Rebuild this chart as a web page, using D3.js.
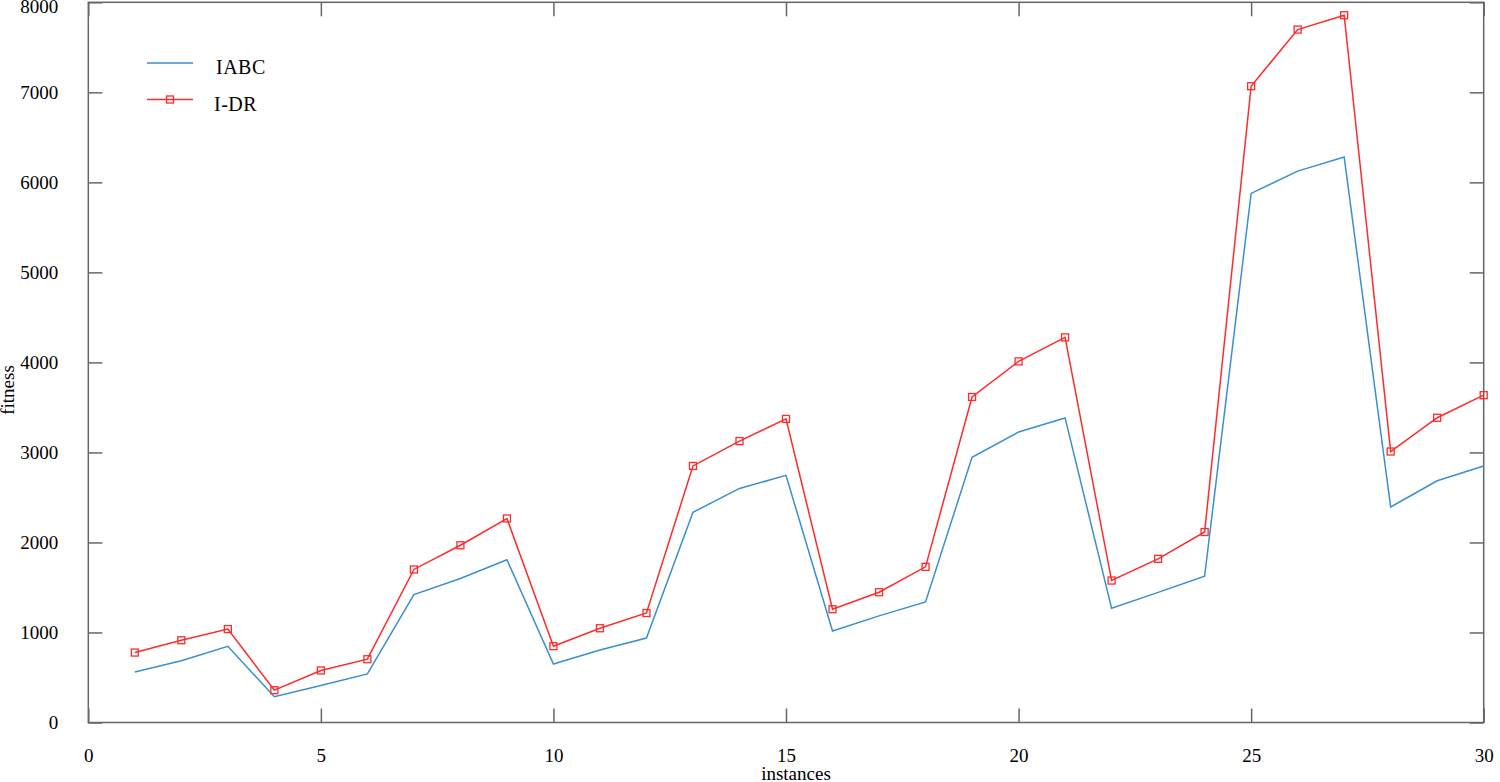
<!DOCTYPE html>
<html>
<head>
<meta charset="utf-8">
<script src="https://cdn.jsdelivr.net/npm/d3@7"></script>
<style>
  html, body { margin: 0; padding: 0; background: #fff; }
  svg { display: block; }
  svg text { font-family: "Liberation Serif", "Times New Roman", serif !important; fill: #000; }
</style>
</head>
<body>
<svg id="chart" width="1500" height="782"></svg>
<script>
const instances = d3.range(1, 31);
const iabc = [560, 686, 846, 287, 410, 540, 1420, 1600, 1808, 649,
              805, 938, 2335, 2600, 2745, 1016, 1184, 1340, 2946, 3227,
              3383, 1270, 1445, 1626, 5877, 6125, 6282, 2394, 2685, 2850];
const idr  = [777, 914, 1038, 359, 578, 703, 1700, 1969, 2266, 848,
              1047, 1216, 2850, 3126, 3372, 1258, 1447, 1729, 3616, 4011,
              4278, 1577, 1818, 2116, 7068, 7697, 7856, 3010, 3385, 3636];
const xTicks = [0, 5, 10, 15, 20, 25, 30];
const yTicks = [0, 1000, 2000, 3000, 4000, 5000, 6000, 7000, 8000];
const seriesNames = ["IABC", "I-DR"];
const seriesColors = ["#3a8fd0", "#ff2a2a"];

const svg = d3.select("#chart");
const L = 88.3, R = 1483.7, T = 2.3, B = 722.5;
const x = d3.scaleLinear().domain([0, 30]).range([L, R]);
const y = d3.scaleLinear().domain([0, 8000]).range([B, T]);
const axisColor = "#666";
const tickLen = 14;
const serif = "'Liberation Serif', 'Times New Roman', serif";
const fs = 19;

// frame
svg.append("rect").attr("x", L).attr("y", T).attr("width", R - L).attr("height", B - T)
  .attr("fill", "none").attr("stroke", axisColor).attr("stroke-width", 1.5);

// axes (ticks drawn inward)
const gB = svg.append("g").attr("transform", `translate(0,${B})`)
  .call(d3.axisBottom(x).tickValues(xTicks).tickSize(-tickLen).tickPadding(tickLen + 12).tickFormat(d3.format("d")));
const gT = svg.append("g").attr("transform", `translate(0,${T})`)
  .call(d3.axisTop(x).tickValues(xTicks).tickSize(-tickLen).tickFormat(""));
const gL = svg.append("g").attr("transform", `translate(${L},0)`)
  .call(d3.axisLeft(y).tickValues(yTicks).tickSize(-tickLen).tickPadding(tickLen + 16).tickFormat(d3.format("d")));
const gR = svg.append("g").attr("transform", `translate(${R},0)`)
  .call(d3.axisRight(y).tickValues(yTicks).tickSize(-tickLen).tickFormat(""));
[gB, gT, gL, gR].forEach(g => {
  g.attr("font-family", serif).attr("font-size", fs);
  g.select(".domain").remove();
  g.selectAll(".tick line").attr("stroke", axisColor).attr("stroke-width", 1.5);
  g.selectAll(".tick text").attr("font-family", serif).attr("font-size", fs).attr("fill", "#000");
});
gL.select(".tick:last-of-type text").attr("dy", "0.55em");

// axis titles
svg.append("text").attr("x", 796).attr("y", 780).attr("text-anchor", "middle")
  .attr("font-family", serif).attr("font-size", fs).text("instances");
svg.append("text").attr("transform", "translate(14,390) rotate(-90)").attr("text-anchor", "middle")
  .attr("font-family", serif).attr("font-size", fs).text("fitness");

// lines
const line = d3.line().x((d, i) => x(instances[i])).y(d => y(d));
svg.append("path").datum(iabc).attr("d", line).attr("fill", "none")
  .attr("stroke", seriesColors[0]).attr("stroke-width", 1.5);
svg.append("path").datum(idr).attr("d", line).attr("fill", "none")
  .attr("stroke", seriesColors[1]).attr("stroke-width", 1.5);
svg.selectAll("rect.mk").data(idr).enter().append("rect").attr("class", "mk")
  .attr("x", (d, i) => x(instances[i]) - 3.5).attr("y", d => y(d) - 3.5)
  .attr("width", 7).attr("height", 7)
  .attr("fill", "none").attr("stroke", seriesColors[1]).attr("stroke-width", 1.3);

// legend
const lg = svg.append("g");
[63, 99.5].forEach((ly, k) => {
  lg.append("line").attr("x1", 147).attr("x2", 193).attr("y1", ly).attr("y2", ly)
    .attr("stroke", seriesColors[k]).attr("stroke-width", 1.5);
  lg.append("text").attr("x", k === 0 ? 216 : 214).attr("y", ly + 11).attr("font-family", serif)
    .attr("font-size", 20).attr("letter-spacing", 0.5).text(seriesNames[k]);
});
lg.append("rect").attr("x", 170 - 3.5).attr("y", 99.5 - 3.5).attr("width", 7).attr("height", 7)
  .attr("fill", "none").attr("stroke", seriesColors[1]).attr("stroke-width", 1.3);
</script>
</body>
</html>
